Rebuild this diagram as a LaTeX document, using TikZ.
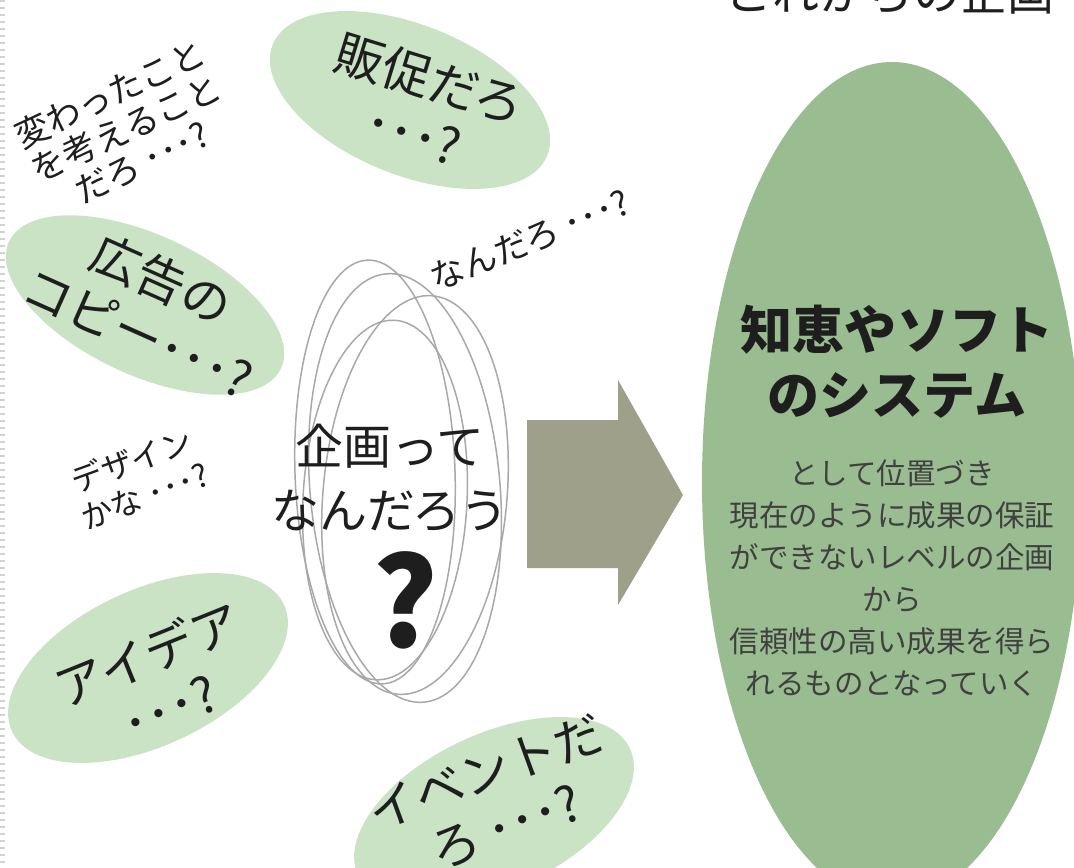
\documentclass[tikz,border=0pt]{standalone}
\usepackage{fontspec}
\newfontfamily\jp{Noto Sans CJK JP}
\definecolor{paleleaf}{HTML}{C9E3C4}
\definecolor{sage}{HTML}{99BC90}
\definecolor{khaki}{HTML}{9FA08A}
\definecolor{loopgray}{HTML}{A8A8A8}
\definecolor{ink}{HTML}{1E1E1E}
\newcommand{\dotsq}{･･･?}
\tikzset{
  bubble/.style={fill=paleleaf},
  loopline/.style={draw=loopgray, line width=0.3mm},
  aside/.style={align=center, font=\jp\fontsize{19.5}{21.5}\selectfont},
  bubbletext/.style={align=center, font=\jp\fontsize{28}{33}\selectfont}
}
\begin{document}
\begin{tikzpicture}[font=\jp, text=ink, x=0.2mm, y=-0.2mm]
\useasboundingbox (0,0) rectangle (1074,867);
\clip (0,0) rectangle (1074,867);

\draw[gray!35, line width=1mm, dash pattern=on 0.4mm off 1mm] (2.5,0) -- (2.5,867);

\node[font=\jp\fontsize{26.7}{30}\selectfont] (newtitle) at (890,-7) {これからの企画};

\foreach \cx/\cy/\a/\rx/\ry in {410/100/-22/148/75, 145/305/-25/150/70, 148/668/25/150/78, 494/812/25/150/78}{
\fill[bubble, rotate around={\a:(\cx,\cy)}] (\cx,\cy) ellipse [x radius=\rx, y radius=\ry];
}

\node[bubbletext, rotate=-17] (sales) at (422,105) {販促だろ\\\dotsq};
\node[bubbletext, rotate=-24] (copy) at (150,305) {広告の\\コピー\dotsq};
\node[bubbletext, rotate=22] (idea) at (158,680) {アイデア\\\dotsq};
\node[bubbletext, rotate=20] (event) at (496,800) {イベントだ\\ろ\hspace{0.2em}\dotsq};

\node[aside, rotate=25] (odd) at (126,128) {変わったこと\\を考えること\\だろ\hspace{0.25em}\dotsq};
\node[aside, rotate=22] (what) at (530,240) {なんだろ\hspace{0.25em}\dotsq};
\node[aside, rotate=20, font=\jp\fontsize{18}{21.5}\selectfont] (design) at (138,478) {デザイン\\かな\hspace{0.25em}\dotsq};

\foreach \cx/\cy/\rx/\ry/\a in {375/472/80/212/2, 405/488/95/215/5, 415/495/92/200/-5, 385/500/82/180/-3}{
\draw[loopline, rotate around={\a:(\cx,\cy)}] (\cx,\cy) ellipse [x radius=\rx, y radius=\ry];
}

\node[align=center, font=\jp\fontsize{27.3}{36}\selectfont] (plan) at (390,478) {企画って\\なんだろう};
\node[font=\jp\fontsize{70}{70}\selectfont\bfseries] (qmark) at (405,600) {?};

\fill[khaki] (527,420) -- (618,420) -- (618,380) -- (683,495) -- (618,605) -- (618,568) -- (527,568) -- cycle;

\fill[sage] (892,482) ellipse [x radius=190, y radius=420];

\node[align=center, font=\jp\fontsize{29.6}{37}\selectfont\bfseries] (soft) at (897,362) {知恵やソフト\\のシステム};
\node[align=center, text=ink!85, font=\jp\fontsize{16.8}{23.9}\selectfont] (future) at (892,578) {として位置づき\\現在のように成果の保証\\ができないレベルの企画\\から\\信頼性の高い成果を得ら\\れるものとなっていく};
\end{tikzpicture}
\end{document}
